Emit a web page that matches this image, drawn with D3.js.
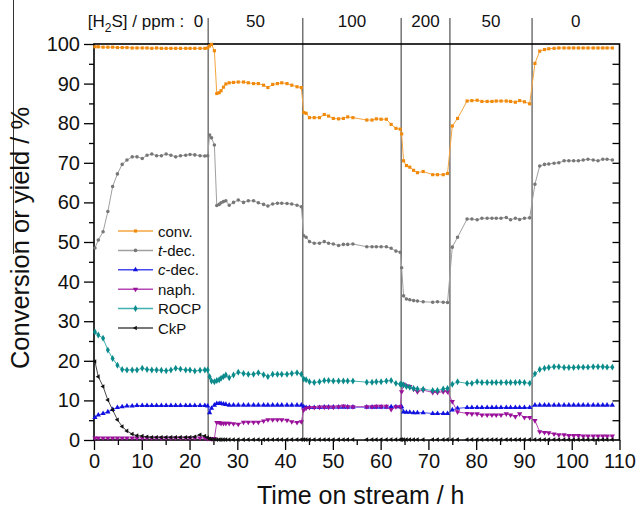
<!DOCTYPE html>
<html>
<head>
<meta charset="utf-8">
<script src="https://cdn.jsdelivr.net/npm/d3@7"></script>
<style>
  body { margin: 0; background: #fff; }
  svg { display: block; font-family: "Liberation Sans", Arial, Helvetica, sans-serif; }
</style>
</head>
<body>
<svg id="chart" width="640" height="512"></svg>
<script>
// Sampling times (h) shared by all product series
const hours = [
  0.2, 0.9, 1.9, 2.9, 3.9, 4.9, 5.9, 6.9, 8.0, 9.0, 10.1, 11.1, 12.1, 13.1, 14.1, 15.1, 16.1, 17.1, 18.1, 19.2, 20.1, 21.1, 22.2, 23.2, 23.8,
  24.2, 24.6, 25.2, 25.7, 26.2, 26.6, 27.1, 27.6, 28.3, 29.2, 30.2, 31.3, 32.3, 33.4, 34.4, 35.5, 36.4, 37.4, 38.4, 39.3, 40.4, 41.4, 42.5, 43.4,
  43.9, 44.4, 45.1, 46.1, 47.2, 48.2, 49.1, 50.1, 51.2, 52.2, 53.1, 54.2, 57.1, 58.2, 59.1, 60.1, 61.2, 62.2, 63.2, 64.1,
  64.4, 64.8, 65.4, 66.1, 66.9, 67.7, 68.9, 70.9, 71.9, 73.1, 74.0,
  75.0, 76.1, 78.1, 79.1, 80.2, 81.2, 82.3, 83.3, 84.2, 85.2, 86.3, 87.2, 88.2, 89.1, 90.1, 91.2,
  92.3, 93.3, 94.3, 95.2, 96.3, 97.3, 98.4, 99.4, 100.4, 101.4, 102.4, 103.4, 104.5, 105.5, 106.5, 107.4, 108.5
];

// Conversion / %
const conv = [
  99.3, 99.3, 99.2, 99.2, 99.2, 99.1, 99.1, 99.1, 99.0, 99.0, 99.0, 99.0, 98.9, 99.0, 98.9, 98.9, 98.9, 98.9, 98.9, 98.9, 98.9, 98.9, 98.9, 98.9, 99.0,
  99.5, 99.9, 98.3, 87.5, 87.7, 88.2, 89.1, 89.9, 90.2, 90.3, 90.4, 90.4, 90.2, 90.0, 90.0, 89.6, 89.0, 89.8, 90.0, 90.2, 90.0, 89.6, 89.2, 89.0,
  82.7, 82.5, 81.4, 81.4, 81.4, 82.2, 81.8, 81.2, 81.1, 81.2, 81.6, 81.4, 80.8, 80.8, 81.1, 81.0, 81.0, 79.7, 78.7, 78.5,
  77.3, 70.5, 69.3, 68.9, 68.1, 67.5, 67.8, 67.0, 67.0, 67.0, 67.3,
  79.3, 81.2, 85.6, 85.7, 85.8, 85.5, 85.5, 85.5, 85.6, 85.6, 85.6, 85.5, 85.3, 85.7, 85.4, 84.9,
  95.1, 98.2, 98.6, 98.8, 98.9, 99.0, 99.0, 99.0, 99.0, 99.0, 99.0, 99.0, 99.0, 99.0, 99.0, 99.0, 99.0
];

// trans-decalin yield / %
const tDec = [
  48.5, 50.5, 52.6, 57.7, 64.0, 67.2, 69.6, 70.7, 71.5, 71.5, 71.1, 71.9, 72.2, 71.8, 71.8, 72.2, 71.9, 71.5, 71.8, 71.9, 72.1, 72.0, 71.8, 71.7, 71.8,
  77.0, 76.3, 74.5, 59.2, 59.5, 59.9, 60.2, 60.4, 59.3, 60.0, 60.6, 60.0, 60.4, 60.4, 59.9, 59.5, 59.1, 59.6, 59.8, 59.8, 59.7, 59.6, 59.3, 58.9,
  51.6, 51.2, 50.1, 49.7, 49.7, 50.1, 49.7, 49.5, 49.1, 49.4, 49.4, 49.5, 48.8, 48.8, 48.8, 48.8, 48.8, 48.4, 47.7, 47.4,
  43.5, 36.4, 35.6, 35.4, 35.2, 35.1, 34.9, 34.8, 34.9, 34.8, 34.7,
  48.7, 51.2, 55.8, 55.8, 55.6, 56.0, 56.0, 56.0, 56.0, 56.0, 56.2, 55.6, 56.0, 55.7, 56.0, 56.1,
  64.6, 69.2, 69.6, 69.7, 69.9, 70.0, 70.5, 70.5, 70.5, 70.5, 70.7, 70.9, 70.7, 70.5, 70.9, 70.9, 70.7
];

// cis-decalin yield / %
const cDec = [
  5.7, 6.3, 6.7, 7.1, 7.7, 8.2, 8.4, 8.6, 8.6, 8.7, 8.7, 8.7, 8.7, 8.7, 8.7, 8.7, 8.7, 8.7, 8.7, 8.7, 8.7, 8.7, 8.7, 8.7, 8.6,
  6.9, 8.0, 8.8, 9.2, 9.2, 9.2, 9.1, 9.0, 8.8, 8.8, 8.8, 8.8, 8.8, 8.8, 8.8, 8.8, 8.8, 8.8, 8.8, 8.8, 8.8, 8.8, 8.8, 8.8,
  8.4, 8.2, 8.2, 8.2, 8.2, 8.3, 8.3, 8.3, 8.3, 8.3, 8.3, 8.3, 8.3, 8.3, 8.3, 8.3, 8.3, 8.4, 8.4, 8.4,
  8.4, 7.1, 7.0, 7.0, 6.9, 6.9, 6.9, 6.7, 6.7, 6.7, 6.7,
  7.6, 8.0, 8.2, 8.2, 8.2, 8.2, 8.2, 8.2, 8.2, 8.2, 8.2, 8.2, 8.2, 8.2, 8.2, 8.2,
  8.8, 8.8, 8.8, 8.8, 8.8, 8.8, 8.8, 8.8, 8.8, 8.8, 8.8, 8.8, 8.8, 8.8, 8.8, 8.8, 8.8
];

// Naphthalene yield / %
const naph = [
  0.5, 0.5, 0.5, 0.5, 0.5, 0.5, 0.5, 0.5, 0.5, 0.5, 0.5, 0.5, 0.5, 0.5, 0.5, 0.5, 0.5, 0.5, 0.5, 0.5, 0.5, 0.5, 0.5, 0.5, 0.4,
  0.4, 0.3, 0.4, 4.4, 4.4, 4.2, 4.2, 4.2, 4.2, 4.1, 4.0, 4.5, 4.5, 4.5, 4.5, 4.8, 5.1, 5.1, 5.1, 5.1, 5.0, 4.6, 4.4, 4.6,
  7.6, 8.0, 8.2, 8.2, 8.3, 8.3, 8.3, 8.3, 8.4, 8.6, 8.4, 8.4, 8.4, 8.4, 8.5, 8.5, 8.5, 7.7, 8.4, 8.4,
  12.2, 14.1, 13.7, 13.5, 12.8, 12.2, 12.6, 12.0, 12.0, 12.2, 12.2,
  9.7, 7.1, 6.7, 6.6, 6.6, 6.3, 6.3, 6.3, 6.3, 6.3, 6.6, 6.3, 5.9, 6.6, 5.7, 5.7,
  4.9, 2.1, 1.9, 1.8, 1.5, 1.3, 1.3, 1.1, 1.1, 1.1, 1.0, 1.0, 1.0, 1.0, 1.0, 1.0, 1.0
];

// Ring-opening products yield / %
const rocp = [
  27.3, 26.5, 25.7, 22.7, 20.6, 18.9, 17.8, 17.7, 17.7, 17.7, 18.1, 17.8, 17.7, 17.7, 17.6, 17.5, 17.7, 18.1, 17.9, 17.7, 17.7, 17.4, 17.6, 17.7, 17.7,
  16.0, 14.9, 14.7, 15.0, 15.2, 15.6, 16.0, 16.4, 15.7, 16.4, 17.1, 16.8, 16.6, 16.6, 17.0, 16.5, 16.0, 16.6, 16.6, 16.6, 16.6, 16.8, 17.0, 16.6,
  15.4, 15.2, 14.7, 14.5, 14.7, 15.0, 15.0, 14.9, 14.9, 14.9, 14.9, 14.9, 14.6, 14.6, 14.7, 14.7, 14.9, 15.0, 14.3, 14.1,
  14.1, 13.9, 13.5, 13.3, 13.0, 12.9, 12.8, 12.5, 12.5, 12.9, 13.0,
  14.1, 14.7, 14.3, 14.3, 14.7, 14.5, 14.5, 14.5, 14.5, 14.5, 14.5, 14.5, 14.5, 14.6, 14.5, 14.3,
  16.7, 17.8, 18.1, 18.3, 18.5, 18.5, 18.3, 18.3, 18.3, 18.4, 18.4, 18.4, 18.5, 18.5, 18.5, 18.4, 18.4
];

// Cracking products yield / %
const ckp = [
  19.8, 16.0, 13.5, 10.1, 7.6, 5.1, 3.4, 2.3, 1.5, 1.1, 1.0, 0.8, 0.7, 0.7, 0.7, 0.7, 0.7, 0.7, 0.7, 0.7, 0.7, 0.8, 1.3, 1.0, 0.6,
  0.3, 0.2, 0.2, 0.1, 0.1, 0.1, 0.1, 0.1, 0.1, 0.1, 0.1, 0.1, 0.1, 0.1, 0.1, 0.1, 0.1, 0.1, 0.1, 0.1, 0.1, 0.1, 0.1, 0.1,
  0.1, 0.1, 0.1, 0.1, 0.1, 0.1, 0.1, 0.1, 0.1, 0.1, 0.1, 0.1, 0.1, 0.1, 0.1, 0.1, 0.1, 0.1, 0.1, 0.1,
  0.1, 0.1, 0.1, 0.1, 0.1, 0.1, 0.1, 0.1, 0.1, 0.1, 0.1,
  0.1, 0.1, 0.1, 0.1, 0.1, 0.1, 0.1, 0.1, 0.1, 0.1, 0.1, 0.1, 0.1, 0.1, 0.1, 0.1,
  0.1, 0.1, 0.1, 0.1, 0.1, 0.1, 0.1, 0.1, 0.1, 0.1, 0.1, 0.1, 0.1, 0.1, 0.1, 0.1, 0.1
];

// H2S feed switches (h) and the concentration of each period
const switchTimes = [23.9, 43.7, 64.3, 74.5, 91.7];
const h2sLevels = ["0", "50", "100", "200", "50", "0"];

const xTickValues = d3.range(0, 111, 10);
const yTickValues = d3.range(0, 101, 10);

const series = [
  { name: "conv.",  italic: null, values: conv, color: "#f08a0c", line: "#f5a640", symbol: d3.symbolSquare,   size: 10, rotate: 0 },
  { name: "-dec.",  italic: "t",  values: tDec, color: "#777777", line: "#a0a0a0", symbol: d3.symbolCircle,   size: 10, rotate: 0 },
  { name: "-dec.",  italic: "c",  values: cDec, color: "#1010e0", line: "#4848f0", symbol: d3.symbolTriangle, size: 12, rotate: 0 },
  { name: "naph.",  italic: null, values: naph, color: "#9a109a", line: "#b448b4", symbol: d3.symbolTriangle, size: 12, rotate: 180 },
  { name: "ROCP",   italic: null, values: rocp, color: "#0a8a8a", line: "#40b0b0", symbol: d3.symbolDiamond,  size: 14, rotate: 0 },
  { name: "CkP",    italic: null, values: ckp,  color: "#111111", line: "#4a4a4a", symbol: d3.symbolTriangle, size: 9,  rotate: -90 }
];

const svg = d3.select("#chart");
const x = d3.scaleLinear().domain([0, 110]).range([94, 619.5]);
const y = d3.scaleLinear().domain([0, 100]).range([440, 44]);

// Rule at the left margin
svg.append("line").attr("x1", 13.5).attr("x2", 13.5).attr("y1", 0).attr("y2", 254)
  .attr("stroke", "#333").attr("stroke-width", 1);

// Feed-change separators, running up into the header row
svg.append("g").selectAll("line").data(switchTimes).join("line")
  .attr("x1", d => x(d)).attr("x2", d => x(d))
  .attr("y1", 18).attr("y2", y(0))
  .attr("stroke", "#6a6a6a").attr("stroke-width", 1.4);

// H2S concentration header
const bounds = [0, ...switchTimes, 110];
const header = svg.append("g").attr("font-size", 17).attr("fill", "#111");
h2sLevels.forEach((lvl, i) => {
  if (i === 0) {
    const t = header.append("text").attr("x", x(bounds[1]) - 5).attr("y", 27)
      .attr("text-anchor", "end").attr("style", "white-space:pre");
    t.append("tspan").text("[H");
    t.append("tspan").attr("font-size", 12).attr("dy", 5).text("2");
    t.append("tspan").attr("dy", -5).text("S] / ppm :  " + lvl);
  } else {
    header.append("text").attr("x", (x(bounds[i]) + x(bounds[i + 1])) / 2).attr("y", 27)
      .attr("text-anchor", "middle").text(lvl);
  }
});

// Axes
const axisStyle = g => {
  g.select(".domain").remove();
  g.selectAll("line").attr("stroke", "#000").attr("stroke-width", 1.3);
  g.selectAll("text").attr("font-size", 20).attr("fill", "#111");
};

svg.append("g").attr("transform", `translate(0,${y(0)})`)
  .call(d3.axisBottom(x).tickValues(d3.range(5, 110, 10)).tickSize(5).tickFormat(""))
  .call(axisStyle);
svg.append("g").attr("transform", `translate(0,${y(0)})`)
  .call(d3.axisBottom(x).tickValues(xTickValues).tickSize(10).tickPadding(4))
  .call(axisStyle);

svg.append("g").attr("transform", `translate(${x(0)},0)`)
  .call(d3.axisLeft(y).tickValues(d3.range(5, 100, 10)).tickSize(5).tickFormat(""))
  .call(axisStyle);
svg.append("g").attr("transform", `translate(${x(0)},0)`)
  .call(d3.axisLeft(y).tickValues(yTickValues).tickSize(10).tickPadding(4))
  .call(axisStyle);

svg.append("g").attr("transform", `translate(${x(110)},0)`)
  .call(d3.axisLeft(y).tickValues(d3.range(5, 100, 5)).tickSize(7).tickFormat(""))
  .call(axisStyle);

// Frame
svg.append("rect").attr("x", x(0)).attr("y", y(100))
  .attr("width", x(110) - x(0)).attr("height", y(0) - y(100))
  .attr("fill", "none").attr("stroke", "#000").attr("stroke-width", 1.6);

// Series lines and markers
const line = d3.line().x(d => x(d[0])).y(d => y(d[1]));
const plot = svg.append("g");
series.forEach(s => {
  const pts = hours.map((h, i) => [h, s.values[i]]);
  plot.append("path").datum(pts).attr("d", line)
    .attr("fill", "none").attr("stroke", s.line).attr("stroke-width", 1);
  const sym = d3.symbol().type(s.symbol).size(s.size);
  plot.append("g").selectAll("path").data(pts).join("path")
    .attr("d", sym)
    .attr("transform", d => `translate(${x(d[0])},${y(d[1])}) rotate(${s.rotate})`)
    .attr("fill", s.color);
});

// Legend
const legend = svg.append("g").attr("font-size", 15).attr("fill", "#111");
series.forEach((s, i) => {
  const ly = 231 + i * 19.4;
  legend.append("line").attr("x1", 118).attr("x2", 153).attr("y1", ly).attr("y2", ly)
    .attr("stroke", s.line).attr("stroke-width", 1.5);
  legend.append("path").attr("d", d3.symbol().type(s.symbol).size(s.size))
    .attr("transform", `translate(135.5,${ly}) rotate(${s.rotate})`).attr("fill", s.color);
  const t = legend.append("text").attr("x", 158).attr("y", ly + 5.5);
  if (s.italic) t.append("tspan").attr("font-style", "italic").text(s.italic);
  t.append("tspan").text(s.name);
});

// Axis titles
svg.append("text").attr("x", (x(0) + x(110)) / 2 + 4).attr("y", 504)
  .attr("text-anchor", "middle").attr("font-size", 25).attr("fill", "#111")
  .text("Time on stream / h");
svg.append("text").attr("transform", `translate(29,${(y(0) + y(100)) / 2 - 4}) rotate(-90)`)
  .attr("text-anchor", "middle").attr("font-size", 25.5).attr("fill", "#111")
  .text("Conversion or yield / %");
</script>
</body>
</html>
